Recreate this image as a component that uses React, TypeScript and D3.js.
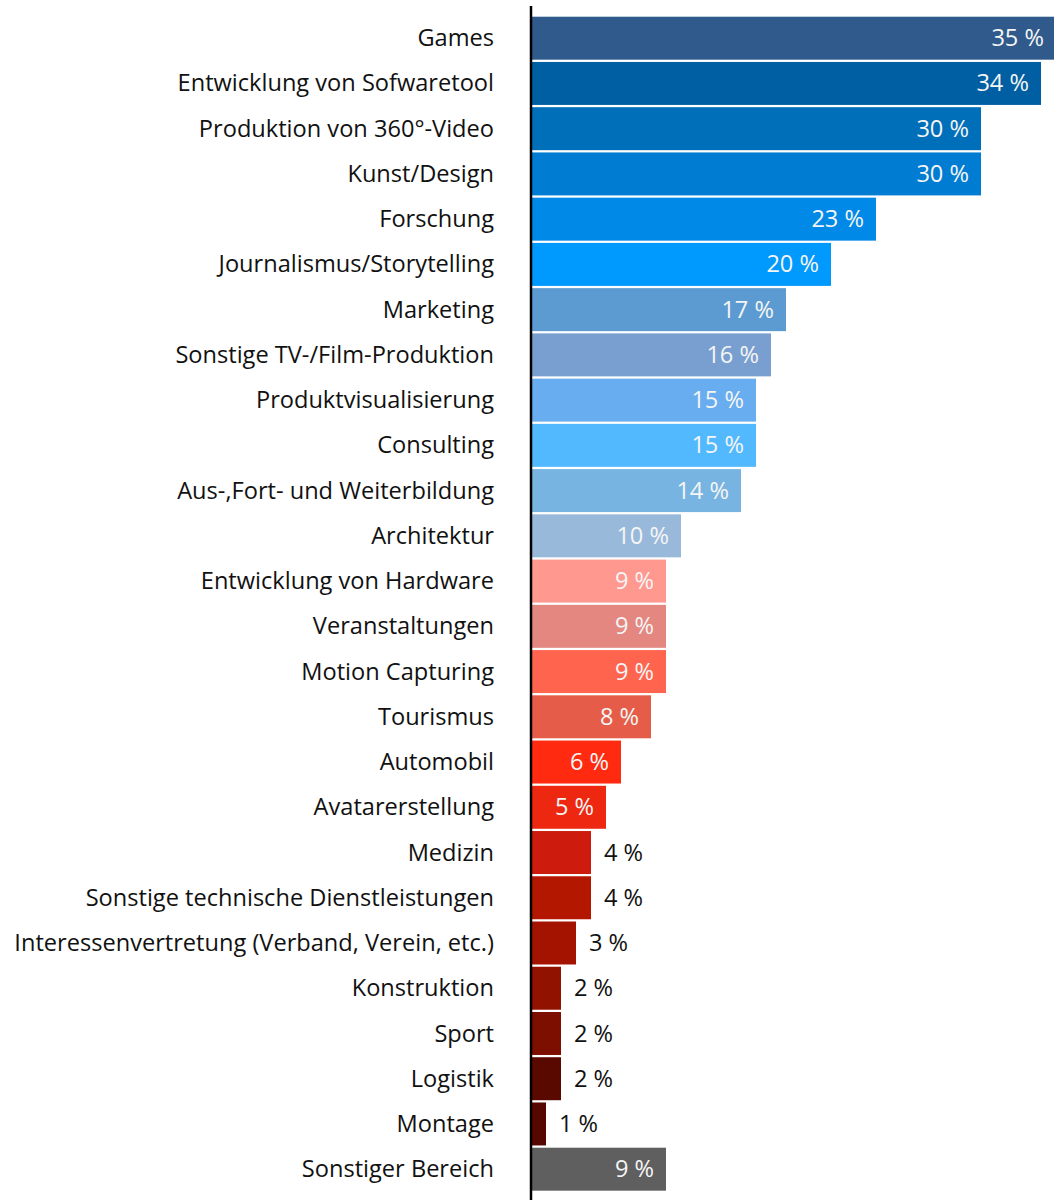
import React from "react";
import * as d3 from "d3";

const categories: string[] = [
  "Games",
  "Entwicklung von Sofwaretool",
  "Produktion von 360°-Video",
  "Kunst/Design",
  "Forschung",
  "Journalismus/Storytelling",
  "Marketing",
  "Sonstige TV-/Film-Produktion",
  "Produktvisualisierung",
  "Consulting",
  "Aus-,Fort- und Weiterbildung",
  "Architektur",
  "Entwicklung von Hardware",
  "Veranstaltungen",
  "Motion Capturing",
  "Tourismus",
  "Automobil",
  "Avatarerstellung",
  "Medizin",
  "Sonstige technische Dienstleistungen",
  "Interessenvertretung (Verband, Verein, etc.)",
  "Konstruktion",
  "Sport",
  "Logistik",
  "Montage",
  "Sonstiger Bereich",
];

const values: number[] = [35, 34, 30, 30, 23, 20, 17, 16, 15, 15, 14, 10, 9, 9, 9, 8, 6, 5, 4, 4, 3, 2, 2, 2, 1, 9];

const colors: string[] = [
  "#2f5a8b", "#005fa3", "#006fba", "#007dd2", "#0089e6", "#0099fe",
  "#5c9bd1", "#789fcf", "#68adef", "#53b9ff", "#77b4e1", "#99b9da",
  "#ff988f", "#e38780", "#ff644f", "#e55d48", "#ff2a10", "#ee2711",
  "#cd1c0e", "#b31700", "#a31300", "#921200", "#7c0f00", "#5a0900",
  "#560800", "#5f5f5f",
];

const W = 1054;
const H = 1200;
const FONT = "'Open Sans', sans-serif";
const FS = 23.6;

export default function App() {
  const x = d3.scaleLinear().domain([0, 35]).range([531, 1056]);
  const y = d3
    .scaleBand<string>()
    .domain(categories)
    .range([16.7 - 1.12, 1190.7 + 1.12])
    .paddingInner(0.05)
    .paddingOuter(0.025);

  return (
    <svg
      width={W}
      height={H}
      style={{ position: "absolute", left: 0, top: 0, display: "block" }}
    >
      <rect x={0} y={0} width={W} height={H} fill="#ffffff" />
      {categories.map((c, i) => {
        const v = values[i];
        const yy = y(c)!;
        const bw = y.bandwidth();
        const cy = yy + bw / 2;
        const inside = v >= 5;
        return (
          <g key={c}>
            <rect x={x(0)} y={yy} width={x(v) - x(0)} height={bw} fill={colors[i]} />
            <text
              x={494}
              y={cy}
              dy="0.34em"
              textAnchor="end"
              fontFamily={FONT}
              fontSize={FS}
              fill="#111"
            >
              {c}
            </text>
            <text
              x={inside ? x(v) - 12 : x(v) + 13}
              y={cy}
              dy="0.34em"
              textAnchor={inside ? "end" : "start"}
              fontFamily={FONT}
              fontSize={FS}
              fill={inside ? "#f5f5f5" : "#111"}
            >
              {`${v} %`}
            </text>
          </g>
        );
      })}
      <line x1={531} x2={531} y1={6} y2={H} stroke="#000" strokeWidth={2.5} />
    </svg>
  );
}
